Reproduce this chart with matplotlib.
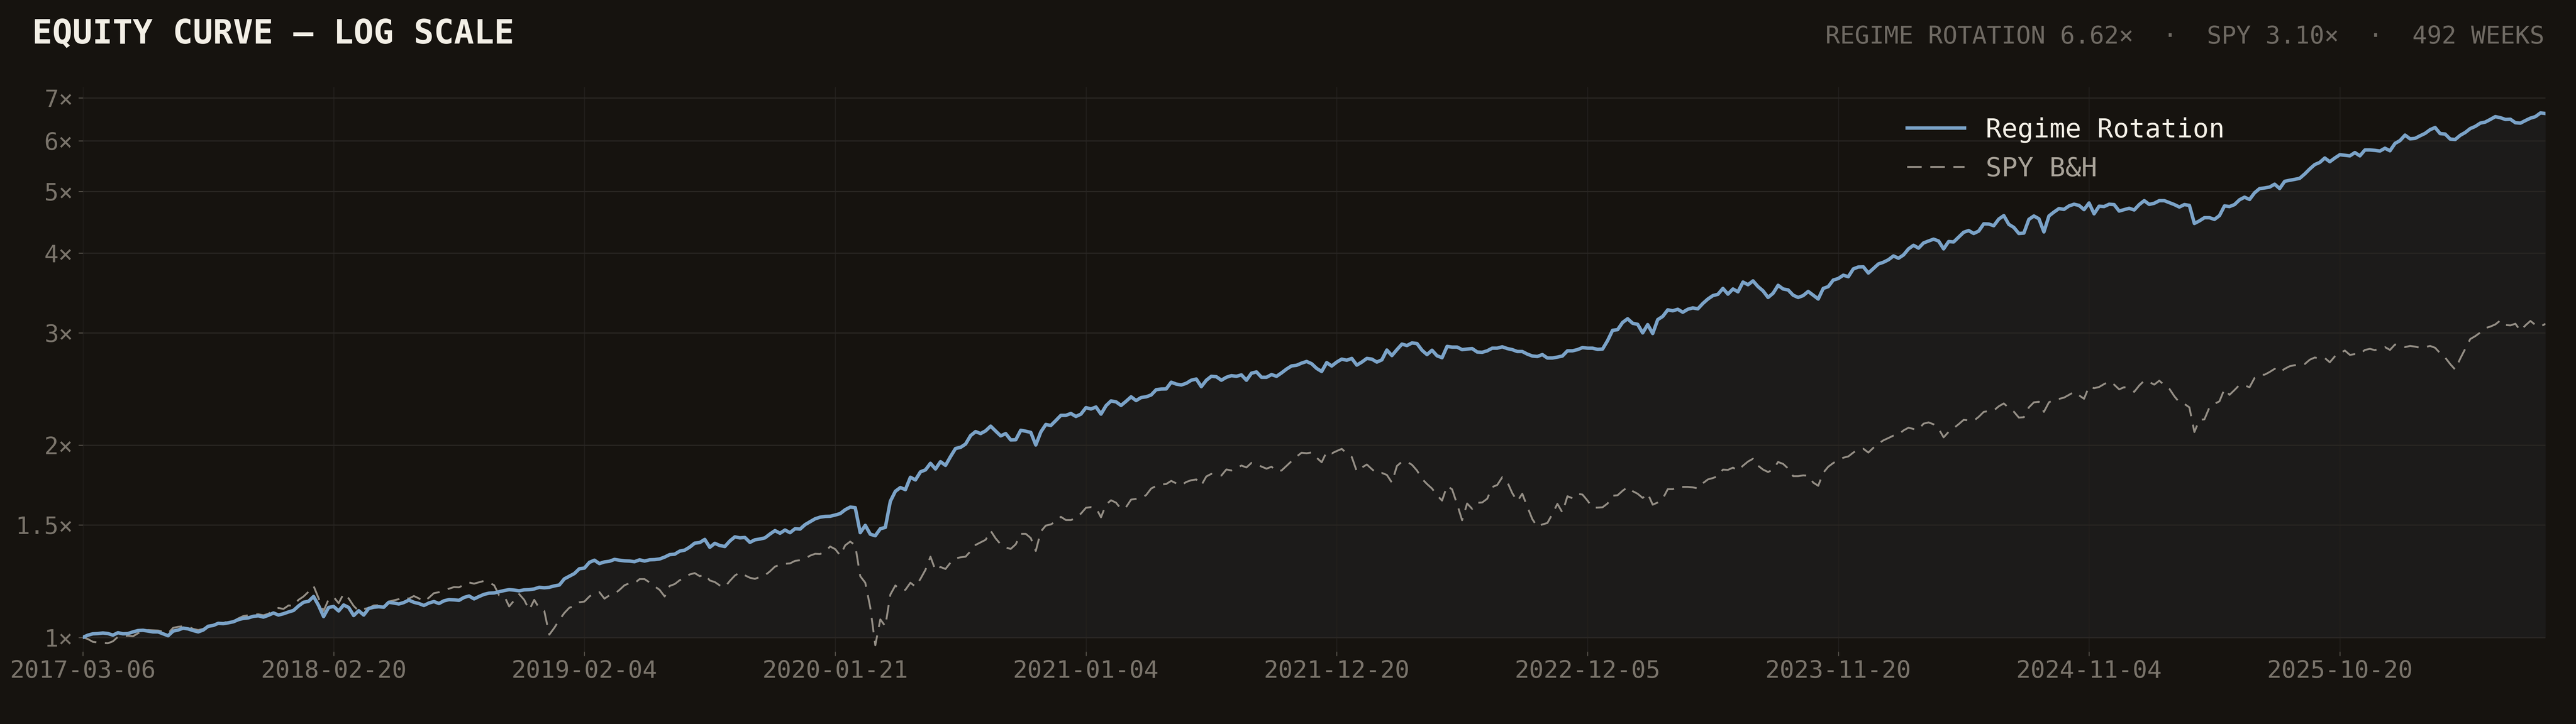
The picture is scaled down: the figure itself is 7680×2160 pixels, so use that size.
import numpy as np
import matplotlib

matplotlib.use("Agg")
import matplotlib.pyplot as plt
from matplotlib.ticker import FixedLocator, FuncFormatter, NullLocator

# ---- palette ----------------------------------------------------------------
BG = "#16130f"
FILL = "#1c1b1a"
GRID_H = "#2a2724"
GRID_V = "#221f1c"
BLUE = "#7ba3c8"
SPY_C = "#948e85"
TITLE_C = "#f3efe6"
SUB_C = "#6f6a63"
TICK_C = "#7a746b"
TICKMARK_C = "#57524b"
LEG_SPY_C = "#a8a298"

plt.rcParams.update({
    "font.family": ["DejaVu Sans Mono", "DejaVu Sans"],
    "figure.facecolor": BG,
    "axes.facecolor": BG,
    "savefig.facecolor": BG,
})

# ---- data: weekly equity, growth of 1 ----------------------------------------
regime = [
    1.000, 1.008, 1.013, 1.014, 1.016, 1.014, 1.008, 1.017, 1.013, 1.014,
    1.020, 1.025, 1.026, 1.023, 1.020, 1.020, 1.013, 1.006, 1.023, 1.027,
    1.034, 1.031, 1.025, 1.020, 1.027, 1.041, 1.044, 1.052, 1.051, 1.054,
    1.058, 1.066, 1.071, 1.073, 1.079, 1.081, 1.076, 1.083, 1.092, 1.084,
    1.089, 1.096, 1.102, 1.120, 1.135, 1.139, 1.159, 1.122, 1.078, 1.114,
    1.118, 1.100, 1.124, 1.114, 1.082, 1.101, 1.084, 1.110, 1.115, 1.117,
    1.115, 1.135, 1.132, 1.128, 1.134, 1.144, 1.135, 1.130, 1.122, 1.132,
    1.138, 1.130, 1.141, 1.146, 1.145, 1.143, 1.155, 1.161, 1.149, 1.159,
    1.168, 1.173, 1.174, 1.179, 1.184, 1.188, 1.186, 1.183, 1.187, 1.188,
    1.191, 1.198, 1.196, 1.198, 1.204, 1.208, 1.235, 1.247, 1.259, 1.281,
    1.284, 1.311, 1.321, 1.305, 1.313, 1.316, 1.325, 1.321, 1.318, 1.317,
    1.314, 1.323, 1.317, 1.323, 1.324, 1.327, 1.336, 1.348, 1.350, 1.365,
    1.370, 1.385, 1.405, 1.408, 1.424, 1.384, 1.404, 1.393, 1.388, 1.416,
    1.437, 1.432, 1.434, 1.409, 1.422, 1.426, 1.432, 1.452, 1.470, 1.456,
    1.473, 1.459, 1.480, 1.478, 1.502, 1.518, 1.534, 1.543, 1.547, 1.548,
    1.555, 1.563, 1.585, 1.600, 1.597, 1.459, 1.498, 1.451, 1.443, 1.480,
    1.487, 1.634, 1.694, 1.717, 1.704, 1.782, 1.765, 1.817, 1.830, 1.874,
    1.836, 1.885, 1.860, 1.920, 1.977, 1.985, 2.009, 2.071, 2.101, 2.086,
    2.107, 2.143, 2.105, 2.069, 2.086, 2.039, 2.040, 2.111, 2.104, 2.095,
    2.002, 2.098, 2.156, 2.148, 2.187, 2.228, 2.228, 2.243, 2.219, 2.238,
    2.291, 2.280, 2.296, 2.238, 2.307, 2.347, 2.339, 2.309, 2.344, 2.382,
    2.350, 2.376, 2.382, 2.398, 2.444, 2.450, 2.451, 2.511, 2.494, 2.486,
    2.501, 2.529, 2.540, 2.471, 2.529, 2.565, 2.561, 2.529, 2.556, 2.571,
    2.565, 2.578, 2.529, 2.594, 2.606, 2.556, 2.556, 2.581, 2.565, 2.597,
    2.633, 2.663, 2.669, 2.690, 2.706, 2.684, 2.639, 2.610, 2.695, 2.662,
    2.700, 2.729, 2.718, 2.736, 2.671, 2.700, 2.736, 2.729, 2.700, 2.722,
    2.820, 2.764, 2.824, 2.881, 2.866, 2.893, 2.887, 2.818, 2.774, 2.818,
    2.762, 2.743, 2.857, 2.850, 2.850, 2.824, 2.830, 2.835, 2.800, 2.797,
    2.812, 2.839, 2.839, 2.853, 2.835, 2.824, 2.805, 2.805, 2.779, 2.760,
    2.755, 2.774, 2.740, 2.740, 2.749, 2.760, 2.812, 2.812, 2.824, 2.845,
    2.839, 2.839, 2.827, 2.830, 2.917, 3.028, 3.035, 3.115, 3.157, 3.106,
    3.094, 3.000, 3.091, 2.993, 3.147, 3.184, 3.260, 3.249, 3.267, 3.232,
    3.267, 3.283, 3.272, 3.336, 3.390, 3.432, 3.448, 3.522, 3.450, 3.515,
    3.479, 3.604, 3.569, 3.619, 3.545, 3.491, 3.409, 3.461, 3.562, 3.515,
    3.503, 3.437, 3.409, 3.432, 3.484, 3.437, 3.390, 3.522, 3.545, 3.630,
    3.650, 3.694, 3.674, 3.779, 3.805, 3.807, 3.723, 3.784, 3.847, 3.871,
    3.906, 3.960, 3.927, 3.974, 4.062, 4.115, 4.073, 4.150, 4.179, 4.207,
    4.179, 4.062, 4.171, 4.165, 4.238, 4.313, 4.340, 4.294, 4.332, 4.446,
    4.443, 4.416, 4.523, 4.580, 4.438, 4.389, 4.294, 4.300, 4.518, 4.574,
    4.528, 4.318, 4.574, 4.639, 4.698, 4.684, 4.743, 4.772, 4.752, 4.680,
    4.794, 4.610, 4.738, 4.732, 4.772, 4.766, 4.656, 4.680, 4.703, 4.674,
    4.766, 4.834, 4.769, 4.789, 4.834, 4.834, 4.800, 4.766, 4.724, 4.766,
    4.752, 4.452, 4.494, 4.546, 4.546, 4.518, 4.580, 4.743, 4.732, 4.766,
    4.849, 4.895, 4.855, 4.973, 5.049, 5.061, 5.077, 5.130, 5.050, 5.183,
    5.203, 5.220, 5.240, 5.323, 5.420, 5.506, 5.549, 5.638, 5.563, 5.638,
    5.705, 5.694, 5.682, 5.750, 5.682, 5.804, 5.804, 5.796, 5.782, 5.841,
    5.787, 5.943, 6.004, 6.124, 6.042, 6.052, 6.109, 6.162, 6.245, 6.294,
    6.157, 6.147, 6.037, 6.027, 6.119, 6.182, 6.270, 6.319, 6.394, 6.419,
    6.480, 6.546, 6.521, 6.480, 6.485, 6.404, 6.394, 6.454, 6.510, 6.546,
    6.634, 6.620,
]

spy = [
    1.000, 0.994, 0.984, 0.982, 0.980, 0.979, 0.986, 1.002, 1.004, 1.006,
    1.004, 1.015, 1.025, 1.027, 1.026, 1.025, 1.021, 1.015, 1.035, 1.039,
    1.041, 1.040, 1.031, 1.027, 1.031, 1.043, 1.046, 1.052, 1.053, 1.060,
    1.060, 1.071, 1.080, 1.083, 1.086, 1.087, 1.083, 1.089, 1.102, 1.112,
    1.108, 1.122, 1.121, 1.145, 1.159, 1.179, 1.204, 1.152, 1.100, 1.147,
    1.157, 1.131, 1.171, 1.151, 1.120, 1.100, 1.108, 1.112, 1.122, 1.123,
    1.122, 1.138, 1.143, 1.148, 1.157, 1.150, 1.161, 1.151, 1.138, 1.154,
    1.173, 1.177, 1.185, 1.192, 1.199, 1.198, 1.209, 1.219, 1.214, 1.220,
    1.226, 1.219, 1.207, 1.164, 1.162, 1.118, 1.143, 1.169, 1.145, 1.104,
    1.145, 1.111, 1.100, 1.010, 1.035, 1.065, 1.092, 1.113, 1.120, 1.135,
    1.138, 1.159, 1.174, 1.177, 1.150, 1.164, 1.170, 1.187, 1.207, 1.216,
    1.216, 1.234, 1.234, 1.219, 1.202, 1.187, 1.159, 1.204, 1.212, 1.229,
    1.241, 1.255, 1.261, 1.247, 1.255, 1.228, 1.221, 1.206, 1.199, 1.226,
    1.250, 1.264, 1.251, 1.240, 1.235, 1.244, 1.251, 1.269, 1.291, 1.300,
    1.304, 1.306, 1.318, 1.321, 1.329, 1.343, 1.352, 1.351, 1.363, 1.388,
    1.375, 1.344, 1.394, 1.413, 1.394, 1.247, 1.218, 1.114, 0.972, 1.067,
    1.041, 1.167, 1.206, 1.187, 1.187, 1.218, 1.201, 1.235, 1.276, 1.338,
    1.273, 1.289, 1.280, 1.310, 1.330, 1.335, 1.338, 1.365, 1.396, 1.409,
    1.422, 1.469, 1.429, 1.399, 1.383, 1.376, 1.399, 1.453, 1.453, 1.431,
    1.366, 1.465, 1.497, 1.503, 1.520, 1.545, 1.527, 1.527, 1.538, 1.563,
    1.596, 1.600, 1.596, 1.542, 1.615, 1.640, 1.626, 1.589, 1.600, 1.644,
    1.648, 1.652, 1.671, 1.711, 1.727, 1.736, 1.739, 1.759, 1.743, 1.731,
    1.752, 1.763, 1.768, 1.731, 1.787, 1.804, 1.800, 1.793, 1.833, 1.826,
    1.842, 1.859, 1.846, 1.877, 1.869, 1.852, 1.838, 1.851, 1.821, 1.826,
    1.857, 1.889, 1.920, 1.947, 1.943, 1.949, 1.912, 1.881, 1.954, 1.942,
    1.959, 1.974, 1.943, 1.917, 1.820, 1.845, 1.866, 1.835, 1.808, 1.810,
    1.797, 1.748, 1.856, 1.885, 1.885, 1.864, 1.826, 1.772, 1.739, 1.711,
    1.670, 1.638, 1.727, 1.706, 1.617, 1.526, 1.621, 1.590, 1.625, 1.627,
    1.649, 1.720, 1.733, 1.782, 1.752, 1.683, 1.634, 1.679, 1.602, 1.532,
    1.491, 1.503, 1.511, 1.561, 1.619, 1.569, 1.664, 1.652, 1.679, 1.674,
    1.638, 1.597, 1.597, 1.599, 1.621, 1.667, 1.670, 1.697, 1.720, 1.695,
    1.679, 1.654, 1.681, 1.614, 1.627, 1.649, 1.707, 1.707, 1.721, 1.721,
    1.721, 1.718, 1.712, 1.744, 1.768, 1.777, 1.789, 1.832, 1.830, 1.845,
    1.826, 1.858, 1.886, 1.905, 1.858, 1.832, 1.816, 1.832, 1.883, 1.870,
    1.839, 1.789, 1.789, 1.794, 1.792, 1.748, 1.728, 1.811, 1.851, 1.876,
    1.896, 1.912, 1.921, 1.948, 1.971, 1.975, 1.948, 1.982, 2.012, 2.036,
    2.053, 2.071, 2.078, 2.110, 2.131, 2.121, 2.118, 2.162, 2.172, 2.157,
    2.123, 2.058, 2.099, 2.127, 2.158, 2.192, 2.188, 2.185, 2.216, 2.256,
    2.263, 2.267, 2.302, 2.326, 2.288, 2.258, 2.210, 2.213, 2.293, 2.335,
    2.340, 2.256, 2.335, 2.357, 2.364, 2.375, 2.399, 2.424, 2.395, 2.365,
    2.473, 2.457, 2.468, 2.494, 2.517, 2.489, 2.447, 2.466, 2.453, 2.425,
    2.481, 2.525, 2.513, 2.489, 2.525, 2.485, 2.453, 2.387, 2.335, 2.322,
    2.293, 2.098, 2.192, 2.196, 2.293, 2.322, 2.344, 2.450, 2.399, 2.441,
    2.487, 2.481, 2.466, 2.550, 2.579, 2.580, 2.605, 2.635, 2.602, 2.635,
    2.660, 2.670, 2.676, 2.681, 2.723, 2.745, 2.734, 2.740, 2.698, 2.756,
    2.788, 2.815, 2.771, 2.779, 2.779, 2.821, 2.832, 2.819, 2.837, 2.850,
    2.821, 2.877, 2.863, 2.850, 2.862, 2.855, 2.843, 2.850, 2.862, 2.843,
    2.788, 2.745, 2.681, 2.628, 2.734, 2.832, 2.934, 2.965, 3.004, 3.052,
    3.069, 3.093, 3.138, 3.087, 3.082, 3.101, 3.023, 3.082, 3.132, 3.087,
    3.069, 3.100,
]

# x axis is the week number; a date label every 50 weeks
tick_weeks = [0, 50, 100, 150, 200, 250, 300, 350, 400, 450]
tick_dates = ["2017-03-06", "2018-02-20", "2019-02-04", "2020-01-21",
              "2021-01-04", "2021-12-20", "2022-12-05", "2023-11-20",
              "2024-11-04", "2025-10-20"]
y_ticks = [1, 1.5, 2, 3, 4, 5, 6, 7]

weeks = np.arange(len(regime))

# ---- figure -------------------------------------------------------------------
fig = plt.figure(figsize=(19.2, 5.4), dpi=400)
ax = fig.add_axes([0.03216, 0.1, 0.95599, 0.7796])
ax.set_axisbelow("line")

ax.fill_between(weeks, 1.0, regime, color=FILL, lw=0, zorder=1)
spy_line, = ax.plot(weeks, spy, color=SPY_C, lw=1.0, ls=(0, (7.8, 4.6)),
                    zorder=3, label="SPY B&H")
reg_line, = ax.plot(weeks, regime, color=BLUE, lw=1.85, zorder=4,
                    label="Regime Rotation")

ax.set_yscale("log")
ax.set_ylim(0.95, 7.28)
ax.set_xlim(0, len(regime) - 1)

ax.yaxis.set_major_locator(FixedLocator(y_ticks))
ax.yaxis.set_minor_locator(NullLocator())
ax.yaxis.set_major_formatter(FuncFormatter(lambda v, _: f"{v:g}×"))
ax.set_xticks(tick_weeks)
ax.set_xticklabels(tick_dates)

ax.grid(axis="y", color=GRID_H, lw=0.6)
ax.grid(axis="x", color=GRID_V, lw=0.5)
for side in ("top", "right", "left", "bottom"):
    ax.spines[side].set_visible(False)

ax.tick_params(axis="both", colors=TICKMARK_C, labelcolor=TICK_C,
               length=2.3, width=0.5)
ax.tick_params(axis="x", pad=2.0, labelsize=13.0)
ax.tick_params(axis="y", pad=3.0, labelsize=12.8)

leg = ax.legend(handles=[reg_line, spy_line], loc="upper left",
                bbox_to_anchor=(0.7404, 0.838), bbox_transform=fig.transFigure,
                frameon=False, fontsize=14.2, handlelength=2.16,
                handletextpad=0.8, labelspacing=0.5, borderpad=0,
                borderaxespad=0)
leg.get_texts()[0].set_color(TITLE_C)
leg.get_texts()[1].set_color(LEG_SPY_C)

fig.text(0.0125, 0.9398, "EQUITY CURVE — LOG SCALE", fontsize=17.9,
         fontweight="bold", color=TITLE_C, va="baseline", ha="left")
fig.text(0.98776, 0.9398,
         "REGIME ROTATION 6.62×  ·  SPY 3.10×  ·  492 WEEKS",
         fontsize=13.1, color=SUB_C, va="baseline", ha="right")

fig.savefig("out.png", dpi=400, facecolor=BG)
